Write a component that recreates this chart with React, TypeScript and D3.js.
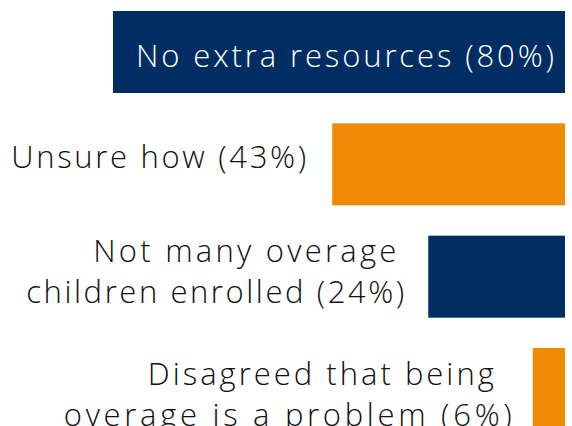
import React from "react";
import * as d3 from "d3";

const categories = [
  "No extra resources",
  "Unsure how",
  "Not many overage children enrolled",
  "Disagreed that being overage is a problem",
];
const percentLabels = ["80%", "43%", "24%", "6%"];
// bar lengths as drawn in the picture (percent)
const barValues = [80, 41.2, 24.2, 5.7];
const labelLines = [
  ["No extra resources", "(80%)"],
  ["Unsure how", "(43%)"],
  ["Not many overage", "children enrolled", "(24%)"],
  ["Disagreed that being", "overage is a problem", "(6%)"],
];

// ---- layout (not data) ----
const W = 572;
const H = 426;
const NAVY = "#002e62";
const ORANGE = "#ef8a06";
const colors = [NAVY, ORANGE, NAVY, ORANGE];
// measured line widths in the picture
const lineWidthTable = [[418], [295], [303, 378], [346, 448]];
// small per-label nudges (dx for first of wrapped lines, dy of block)
const labelNudgeY = [4, -7, -5, 5];
const firstLineShift = [0, 0, 8, 18];
const gapTable = [0, 26, 24, 21];

function buildLines(i: number): string[] {
  const parts = labelLines[i];
  if (parts.length === 2) return [`${parts[0]} ${parts[1]}`];
  return [parts[0], `${parts[1]} ${parts[2]}`];
}

export default function App() {
  const right = 565;
  const x = d3.scaleLinear().domain([0, 80]).range([right, 113]);
  const y = d3.scalePoint<string>().domain(categories).range([52, 389]);
  const barH = 82;
  const fontSize = 31;
  const lineH = 41;
  const insidePad = 11;

  return (
    <svg
      width={W}
      height={H}
      viewBox={`0 0 ${W} ${H}`}
      style={{ position: "absolute", left: 0, top: 0, display: "block", background: "#fff" }}
    >
      <rect x={0} y={0} width={W} height={H} fill="#fff" />
      {categories.map((c, i) => {
        const cy = y(c)!;
        const x0 = x(barValues[i]);
        const inside = i === 0;
        const lines = buildLines(i);
        const n = lines.length;
        const firstBase = cy + 11 - ((n - 1) * lineH) / 2 + labelNudgeY[i];
        const anchorX = inside ? right - insidePad : x0 - gapTable[i];
        return (
          <g key={c}>
            <rect x={x0} y={cy - barH / 2} width={right - x0} height={barH} fill={colors[i]} />
            {lines.map((ln, j) => (
              <text
                key={j}
                x={anchorX - (n > 1 && j < n - 1 ? firstLineShift[i] : 0)}
                y={firstBase + j * lineH}
                textAnchor="end"
                fontFamily="'Open Sans', 'Lato', sans-serif"
                fontWeight={300}
                fontSize={fontSize}
                fill={inside ? "#ffffff" : "#111111"}
                textLength={lineWidthTable[i][j]}
                lengthAdjust="spacing"
              >
                {ln}
              </text>
            ))}
          </g>
        );
      })}
    </svg>
  );
}
